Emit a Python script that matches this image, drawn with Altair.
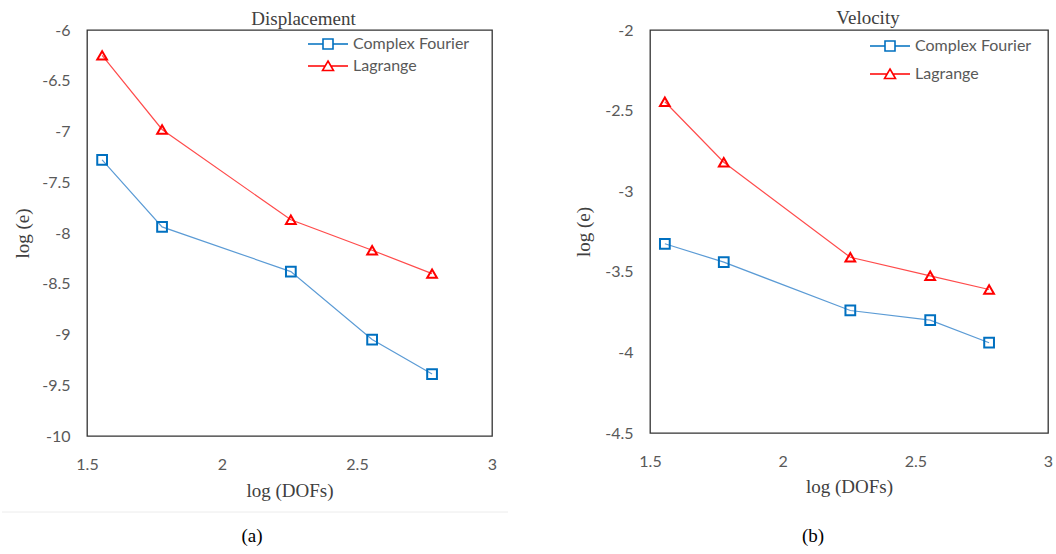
import altair as alt
import pandas as pd

methods = ["Complex Fourier", "Lagrange"]
log_dofs = [1.556, 1.778, 2.255, 2.556, 2.778]

disp_cf = [-7.28, -7.94, -8.38, -9.05, -9.39]
disp_lag = [-6.25, -6.98, -7.87, -8.17, -8.40]
vel_cf = [-3.326, -3.44, -3.74, -3.80, -3.94]
vel_lag = [-2.445, -2.82, -3.41, -3.525, -3.61]

x_ticks = [1.5, 2, 2.5, 3]
disp_ticks = [-10, -9.5, -9, -8.5, -8, -7.5, -7, -6.5, -6]
vel_ticks = [-4.5, -4, -3.5, -3, -2.5, -2]

line_colors = ["#5B9BD5", "#FF4B4B"]
marker_colors = ["#0070C0", "#FF0000"]
marker_shapes = ["square", "triangle-up"]
legend_paths = [
    "M-4,0H-1M1,0H4M-1,-1H1V1H-1Z",
    "M-4,0H-0.58M0.58,0H4M0,-1L1.1,0.9H-1.1Z",
]

SERIF = "Liberation Serif"
SANS = "Lato"
GRAY = "#595959"


def make_df(cf, lag):
    rows = []
    for x, v in zip(log_dofs, cf):
        rows.append({"x": x, "y": v, "method": methods[0]})
    for x, v in zip(log_dofs, lag):
        rows.append({"x": x, "y": v, "method": methods[1]})
    return pd.DataFrame(rows)


def panel(df, title, ydom, yticks, w, h, caption, title_dx, title_off,
          xt_y, yt_x, leg_x, leg_y, leg_row, cap_x, cap_y, sep=False):
    xenc = alt.X("x:Q", scale=alt.Scale(domain=[1.5, 3], nice=False, zero=False),
                 axis=alt.Axis(values=x_ticks, title="log (DOFs)", labelExpr="'' + datum.value",
                               titleX=w / 2, titleY=xt_y, titleBaseline="middle", titleAlign="center",
                               labelPadding=20))
    yenc = alt.Y("y:Q", scale=alt.Scale(domain=ydom, nice=False, zero=False),
                 axis=alt.Axis(values=yticks, title="log (e)", labelExpr="'' + datum.value",
                               titleX=yt_x, titleY=h / 2, titleBaseline="middle", titleAlign="center",
                               labelPadding=17))
    base = alt.Chart(df)
    lines = base.mark_line(strokeWidth=1.2).encode(
        x=xenc, y=yenc,
        stroke=alt.Stroke("method:N", scale=alt.Scale(domain=methods, range=line_colors), legend=None),
    )
    points = base.mark_point(filled=False, strokeWidth=2, size=95, opacity=1).encode(
        x="x:Q", y="y:Q",
        color=alt.Color("method:N", scale=alt.Scale(domain=methods, range=marker_colors), legend=None),
        shape=alt.Shape("method:N", scale=alt.Scale(domain=methods, range=marker_shapes), legend=None),
    )
    leg = alt.Legend(title=None, orient="none", legendX=leg_x, legendY=leg_y,
                     padding=0, symbolSize=100, symbolStrokeWidth=1.6,
                     symbolFillColor="transparent", symbolOpacity=1,
                     labelFont=SANS, labelFontSize=16, labelColor=GRAY,
                     labelOffset=17, rowPadding=leg_row)
    legend_layer = base.mark_point(filled=False).encode(
        x="x:Q", y="y:Q",
        color=alt.Color("method:N", scale=alt.Scale(domain=methods, range=marker_colors), legend=leg),
        shape=alt.Shape("method:N", scale=alt.Scale(domain=methods, range=legend_paths), legend=leg),
    ).transform_filter("false")
    cap = alt.Chart(pd.DataFrame({"t": [caption]})).mark_text(
        font=SERIF, fontSize=19, color="#000000", baseline="middle", align="center"
    ).encode(text="t:N", x=alt.value(cap_x), y=alt.value(cap_y))
    layers = [lines, points, legend_layer, cap]
    if sep:
        rule = alt.Chart(pd.DataFrame({"t": [0]})).mark_rule(color="#ececec", strokeWidth=1).encode(
            x=alt.value(-85), x2=alt.value(421), y=alt.value(cap_y - 24))
        layers.append(rule)
    return alt.layer(*layers).resolve_scale(shape="independent", color="independent").properties(
        width=w, height=h,
        title=alt.TitleParams(title, font=SERIF, fontSize=19, fontWeight="normal", color="#404040",
                              anchor="middle", dx=title_dx, offset=title_off),
    )


left = panel(make_df(disp_cf, disp_lag), "Displacement", [-10, -6], disp_ticks, 405, 406, "(a)",
             14, -7, 54, -65, 233, 6, 4, 165, 506, sep=True)
right = panel(make_df(vel_cf, vel_lag), "Velocity", [-4.5, -2], vel_ticks, 398, 403, "(b)",
              19, -6, 53, -67, 232, 8, 10, 163, 506)

chart = alt.hconcat(left, right, spacing=158, bounds="flush").properties(
    padding={"left": 0, "top": 8, "right": 0, "bottom": 0},
    background="white",
).configure_view(stroke="#333333", strokeWidth=1.3).configure_axis(
    domain=False, ticks=False, tickSize=0, grid=False,
    labelFont=SANS, labelFontSize=16, labelColor=GRAY, labelFlush=False, labelOverlap=False,
    titleFont=SERIF, titleFontSize=19, titleFontWeight="normal", titleColor="#404040",
)

chart.save("out.html", embed_options={"renderer": "svg", "actions": False})
